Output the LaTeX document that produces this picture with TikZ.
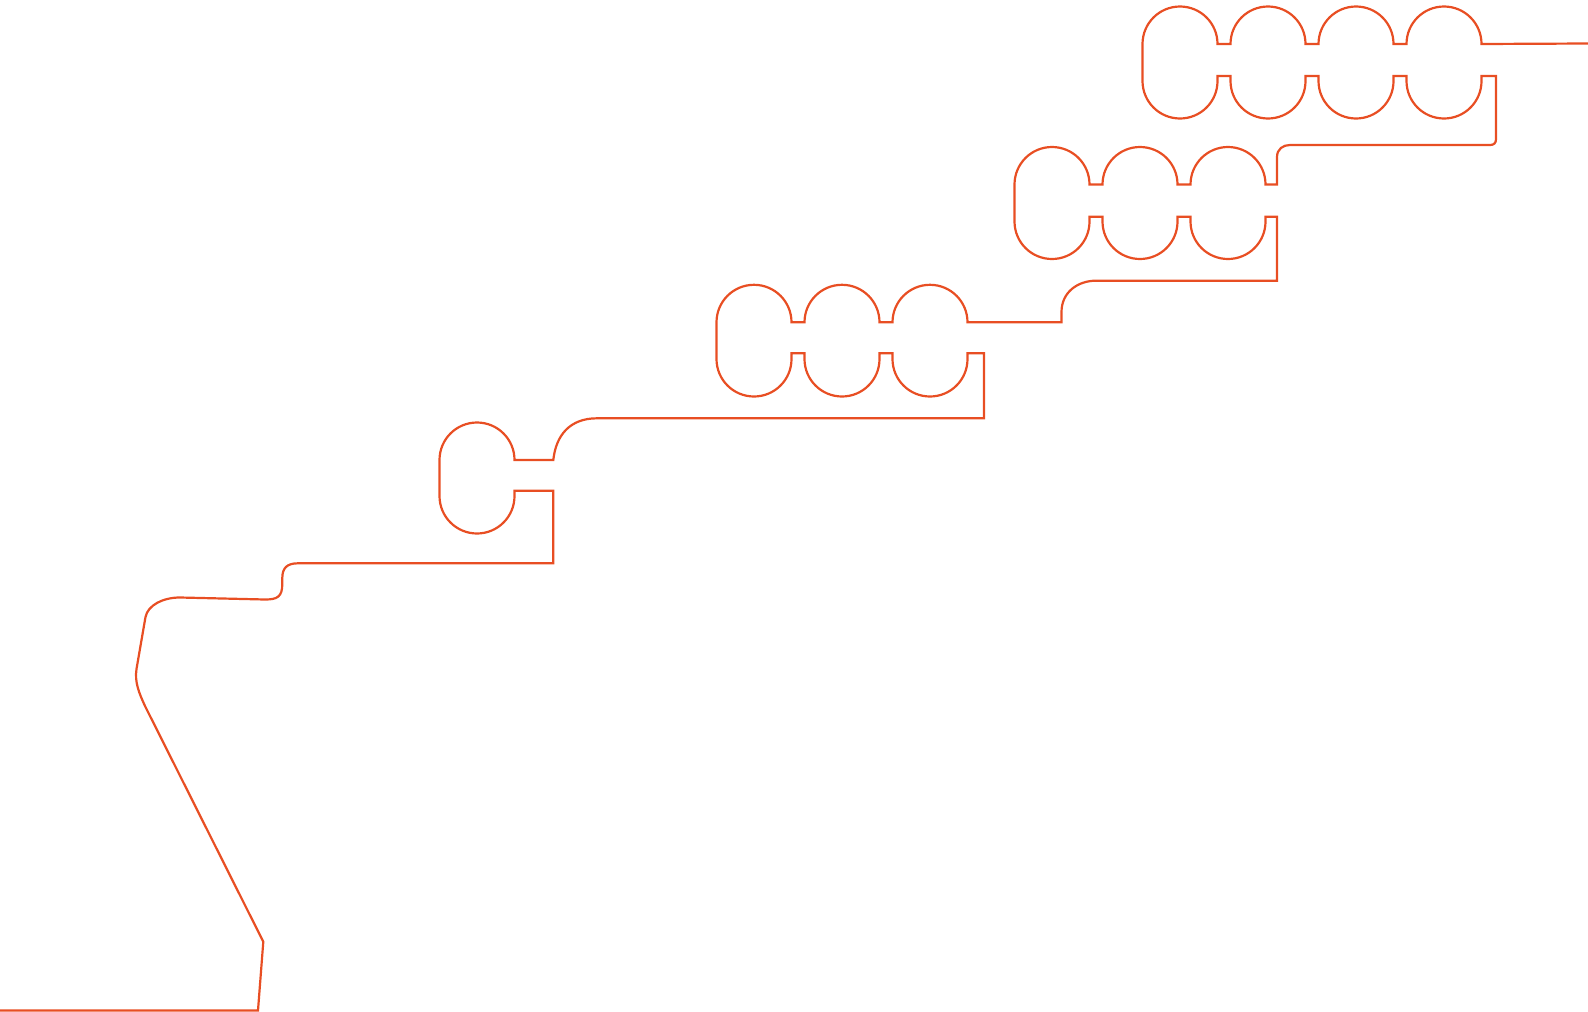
\documentclass[tikz,border=0pt]{standalone}
\usepackage{tikz}
\definecolor{lineorange}{RGB}{232,78,35}

\begin{document}
\begin{tikzpicture}[x=1pt, y=-1pt,
    outline/.style={draw=lineorange, line width=2.2pt}]
    \useasboundingbox (0,0) rectangle (1588,1012);

    \draw[outline]
    % Top row (four lobes)
    (1588,43.5)
    \foreach \c in {1444,1356,1268,1180} { -- ({\c+37.5},44) arc[start angle=0, end angle=-180, radius=37.5] }
    \foreach \c in {1180,1268,1356,1444} { -- ({\c-37.5},76) -- ({\c-37.5},81) arc[start angle=180, end angle=0, radius=37.5] -- ({\c+37.5},76) }
    -- (1496,76) -- (1496,139) .. controls (1496,143) and (1494,145) .. (1490,145)
    -- (1290,145) .. controls (1283,145) and (1277,149) .. (1277,157) -- (1277,184.5)
    % Second row (three lobes)
    \foreach \c in {1228,1140,1052} { -- ({\c+37.5},184.5) arc[start angle=0, end angle=-180, radius=37.5] }
    \foreach \c in {1052,1140,1228} { -- ({\c-37.5},216.7) -- ({\c-37.5},221.5) arc[start angle=180, end angle=0, radius=37.5] -- ({\c+37.5},216.7) }
    -- (1277,216.7) -- (1277,280.7) -- (1096,280.7)
    .. controls (1078,280.7) and (1061.5,292) .. (1061.5,312) -- (1061.5,322.3)
    % Third row (three lobes)
    \foreach \c in {930,842,754} { -- ({\c+37.5},322.3) arc[start angle=0, end angle=-180, radius=37.5] }
    \foreach \c in {754,842,930} { -- ({\c-37.5},353.3) -- ({\c-37.5},359) arc[start angle=180, end angle=0, radius=37.5] -- ({\c+37.5},353.3) }
    -- (984,353.3) -- (984,418.3) -- (597,418.3)
    .. controls (570,418.3) and (556,435) .. (553.3,460)
    % Single lobe
    -- (514.5,460) arc[start angle=0, end angle=-180, radius=37.5]
    -- (439.5,496) arc[start angle=180, end angle=0, radius=37.5]
    -- (514.5,490.7) -- (553.3,490.7) -- (553.3,563.3)
    % Tail down to the bottom edge
    -- (298,563.3) .. controls (287,563.3) and (282.3,568) .. (282.3,578)
    -- (282.3,584) .. controls (282.3,597) and (277,599.5) .. (265,599.5)
    -- (180,597.5) .. controls (163,597.5) and (148,605) .. (145.5,617)
    -- (136.5,669) .. controls (134.5,682) and (139,693) .. (145,706)
    -- (263.3,941.7) -- (258,1010.5) -- (0,1010.5);
\end{tikzpicture}
\end{document}
